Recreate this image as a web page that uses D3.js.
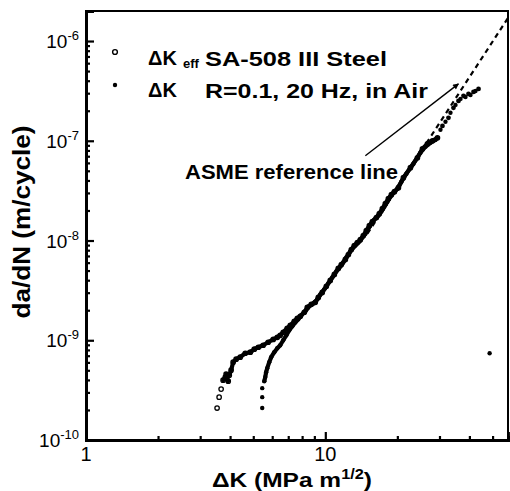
<!DOCTYPE html>
<html lang="en">
<head>
<meta charset="utf-8">
<title>da/dN vs Delta K, SA-508 III Steel</title>
<script src="https://cdnjs.cloudflare.com/ajax/libs/d3/7.8.5/d3.min.js"></script>
<style>
  body { margin: 0; background: #fff; }
  text { font-family: "Liberation Sans", Arial, sans-serif; fill: #000; }
</style>
</head>
<body>
<div id="chart"></div>
<script>
// [ΔK (MPa m^1/2), da/dN (m/cycle)]
// ΔK_eff series (open circles)
var effTail = [[3.53, 2.09e-10], [3.60, 2.69e-10], [3.67, 3.24e-10]];
var effTrace = [
  [3.74, 3.98e-10], [3.82, 4.27e-10], [3.93, 3.89e-10], [3.85, 4.57e-10], [3.97, 4.47e-10], [4.04, 5.01e-10],
  [4.12, 6.03e-10], [4.24, 6.46e-10], [4.41, 6.76e-10], [4.63, 7.41e-10], [4.86, 7.59e-10], [5.05, 8.13e-10],
  [5.25, 8.51e-10], [5.50, 8.91e-10], [5.77, 9.55e-10], [6.06, 1.02e-9], [6.30, 1.07e-9], [6.48, 1.12e-9],
  [6.67, 1.20e-9], [6.93, 1.32e-9], [7.14, 1.41e-9], [7.42, 1.55e-9], [7.64, 1.66e-9], [7.86, 1.74e-9],
  [8.17, 1.91e-9], [8.41, 2.14e-9], [8.74, 2.29e-9], [9.08, 2.40e-9], [9.35, 2.69e-9], [9.71, 3.02e-9],
  [10.10, 3.47e-9], [10.49, 3.98e-9], [10.91, 4.57e-9], [11.33, 5.25e-9], [11.67, 5.75e-9], [12.13, 6.46e-9],
  [12.49, 7.24e-9], [12.85, 8.13e-9], [13.22, 8.91e-9], [13.61, 9.55e-9], [14.01, 1.02e-8], [14.42, 1.12e-8],
  [14.84, 1.26e-8], [15.28, 1.41e-8], [15.73, 1.55e-8], [16.35, 1.70e-8], [16.82, 1.86e-8], [17.32, 2.09e-8],
  [17.82, 2.34e-8], [18.35, 2.63e-8], [18.89, 2.88e-8], [19.45, 3.09e-8], [20.21, 3.39e-8], [21.20, 4.27e-8],
  [22.68, 5.37e-8], [24.26, 6.76e-8], [25.46, 8.32e-8], [26.72, 9.33e-8], [28.04, 1.00e-7], [29.42, 1.07e-7]
];
var effTop = [
  [30.87, 1.41e-7], [32.71, 1.70e-7], [34.32, 2.14e-7], [36.02, 2.51e-7], [37.80, 2.82e-7],
  [39.66, 2.95e-7], [41.62, 3.09e-7], [43.68, 3.31e-7]
];

// ΔK series (filled dots)
var dkTail = [[5.45, 2.09e-10], [5.45, 2.69e-10], [5.45, 3.31e-10], [48.6, 7.4e-10]];
var dkTrace = [
  [5.56, 3.89e-10], [5.61, 4.27e-10], [5.66, 4.79e-10], [5.72, 5.25e-10], [5.83, 6.03e-10], [5.94, 6.76e-10],
  [6.12, 7.59e-10], [6.30, 8.32e-10], [6.48, 8.91e-10], [6.67, 1.00e-9], [6.87, 1.12e-9], [7.07, 1.26e-9],
  [7.28, 1.38e-9], [7.49, 1.51e-9], [7.71, 1.62e-9], [7.94, 1.78e-9], [8.25, 1.95e-9], [8.57, 2.19e-9],
  [8.91, 2.34e-9], [9.26, 2.57e-9], [9.53, 2.88e-9], [9.90, 3.24e-9], [10.29, 3.72e-9], [10.70, 4.27e-9],
  [11.12, 4.90e-9], [11.56, 5.50e-9], [11.89, 6.03e-9], [12.24, 6.76e-9], [12.72, 7.76e-9], [13.10, 8.51e-9],
  [13.48, 9.12e-9], [13.88, 9.77e-9], [14.28, 1.07e-8], [14.71, 1.17e-8], [15.13, 1.32e-8], [15.58, 1.48e-8],
  [16.03, 1.62e-8], [16.67, 1.78e-8], [17.15, 1.95e-8], [17.66, 2.19e-8], [18.17, 2.45e-8], [18.71, 2.75e-8],
  [19.26, 3.02e-8], [20.01, 3.31e-8], [20.80, 3.89e-8], [21.83, 4.68e-8], [23.35, 5.89e-8], [24.98, 7.59e-8],
  [26.20, 8.71e-8], [27.50, 9.55e-8], [28.86, 1.02e-7]
];
var dkTop = [
  [30.28, 1.29e-7], [31.78, 1.55e-7], [33.34, 1.91e-7], [34.99, 2.29e-7], [36.72, 2.63e-7],
  [38.53, 2.75e-7], [40.44, 2.88e-7], [42.43, 3.16e-7]
];

// ASME reference line end points and the annotation arrow
var asmeLine = [[15, 1.17e-8], [60, 1.93e-6]];
var arrowLine = [[14.7, 7.08e-8], [36.0, 3.72e-7]];

var xLabels = [1, 10];
var yExponents = [-10, -9, -8, -7, -6];

var margin = { top: 11, right: 2, bottom: 51, left: 86 },
    width = 510 - margin.left - margin.right,
    height = 491 - margin.top - margin.bottom;

var svg = d3.select("#chart").append("svg")
    .attr("width", 510)
    .attr("height", 491);

var g = svg.append("g")
    .attr("transform", "translate(" + margin.left + "," + margin.top + ")");

var x = d3.scaleLog().domain([1, 58]).range([0, width]);
var y = d3.scaleLog().domain([1e-10, 2e-6]).range([height, 0]);

svg.append("defs").append("clipPath").attr("id", "plotclip")
  .append("rect").attr("width", width).attr("height", height);

// frame
g.append("rect")
    .attr("width", width).attr("height", height)
    .attr("fill", "none").attr("stroke", "#000").attr("stroke-width", 2);

// ticks: minor and major, pointing inward
var isMajor = function(v) { return Math.abs(Math.log10(v) - Math.round(Math.log10(v))) < 1e-6; };

var xMinorAxis = d3.axisBottom(x).tickValues(x.ticks().filter(function(d) { return !isMajor(d); }))
    .tickSize(-4).tickFormat("");
var xMajorAxis = d3.axisBottom(x).tickValues(xLabels).tickSize(-8).tickFormat("");
var yMinorAxis = d3.axisLeft(y).tickValues(y.ticks().filter(function(d) { return !isMajor(d); }))
    .tickSize(-4).tickFormat("");
var yMajorAxis = d3.axisLeft(y).tickValues(yExponents.map(function(e) { return Math.pow(10, e); }))
    .tickSize(-8).tickFormat("");

[[xMinorAxis, true], [xMajorAxis, true], [yMinorAxis, false], [yMajorAxis, false]].forEach(function(a) {
  var ax = g.append("g")
    .attr("transform", a[1] ? "translate(0," + height + ")" : null)
    .call(a[0]);
  ax.select(".domain").attr("stroke-width", 2.8);
  ax.selectAll(".tick line").attr("stroke-width", 2.2);
});

// x tick labels
g.selectAll(".xlab").data(xLabels).enter().append("text")
    .attr("class", "xlab")
    .attr("x", function(d) { return x(d); })
    .attr("y", height + 21)
    .attr("text-anchor", "middle")
    .style("font-size", "20px")
    .text(function(d) { return d; });

// y tick labels 10^n
var yl = g.selectAll(".ylab").data(yExponents).enter().append("text")
    .attr("class", "ylab")
    .attr("x", -7)
    .attr("y", function(d) { return y(Math.pow(10, d)) + 7; })
    .attr("text-anchor", "end")
    .style("font-size", "19px");
yl.append("tspan").text("10");
yl.append("tspan").attr("dy", -8).style("font-size", "13px").text(function(d) { return "-" + (-d); });

// axis titles
var xt = svg.append("text")
    .attr("x", 292).attr("y", 487)
    .attr("text-anchor", "middle")
    .attr("textLength", 160).attr("lengthAdjust", "spacingAndGlyphs")
    .style("font-size", "21px").style("font-weight", "bold");
xt.append("tspan").text("\u0394K (MPa m");
xt.append("tspan").attr("dy", -8).style("font-size", "14px").text("1/2");
xt.append("tspan").attr("dy", 8).text(")");

svg.append("text")
    .attr("transform", "translate(30,222) rotate(-90)")
    .attr("text-anchor", "middle")
    .attr("textLength", 193).attr("lengthAdjust", "spacingAndGlyphs")
    .style("font-size", "24px").style("font-weight", "bold")
    .text("da/dN (m/cycle)");

var plot = g.append("g").attr("clip-path", "url(#plotclip)");

var line = d3.line()
    .x(function(d) { return x(d[0]); })
    .y(function(d) { return y(d[1]); });

// ASME reference line (dashed)
plot.append("path")
    .datum(asmeLine)
    .attr("d", line)
    .attr("fill", "none").attr("stroke", "#000")
    .attr("stroke-width", 2.2).attr("stroke-dasharray", "5,4");

// dense traces: symbols packed so tightly they read as a thick line
[effTrace, dkTrace].forEach(function(s) {
  plot.append("path")
    .datum(s)
    .attr("d", line)
    .attr("fill", "none").attr("stroke", "#000")
    .attr("stroke-width", 4.2)
    .attr("stroke-linejoin", "round").attr("stroke-linecap", "round");
});

// ΔK_eff points: open circles
plot.selectAll(".eff").data(effTail.concat(effTrace)).enter().append("circle")
    .attr("class", "eff")
    .attr("cx", function(d) { return x(d[0]); })
    .attr("cy", function(d) { return y(d[1]); })
    .attr("r", 2.2)
    .attr("fill", "none").attr("stroke", "#000").attr("stroke-width", 1.3);

// upper ΔK_eff symbols overlap into solid blobs
plot.selectAll(".efftop").data(effTop).enter().append("circle")
    .attr("class", "efftop")
    .attr("cx", function(d) { return x(d[0]); })
    .attr("cy", function(d) { return y(d[1]); })
    .attr("r", 2.4)
    .attr("fill", "#000");

// ΔK points: filled dots
plot.selectAll(".dk").data(dkTail.concat(dkTrace, dkTop)).enter().append("circle")
    .attr("class", "dk")
    .attr("cx", function(d) { return x(d[0]); })
    .attr("cy", function(d) { return y(d[1]); })
    .attr("r", 2.2)
    .attr("fill", "#000");

// annotation arrow
svg.append("defs").append("marker")
    .attr("id", "arrowhead")
    .attr("viewBox", "0 0 10 10").attr("refX", 9).attr("refY", 5)
    .attr("markerWidth", 8).attr("markerHeight", 6)
    .attr("markerUnits", "userSpaceOnUse")
    .attr("orient", "auto")
  .append("path").attr("d", "M0,0L10,5L0,10z").attr("fill", "#000");

g.append("path")
    .datum(arrowLine)
    .attr("d", line)
    .attr("stroke", "#000").attr("stroke-width", 1.4)
    .attr("marker-end", "url(#arrowhead)");

svg.append("text")
    .attr("x", 185).attr("y", 179)
    .attr("textLength", 213).attr("lengthAdjust", "spacingAndGlyphs")
    .style("font-size", "21px").style("font-weight", "bold")
    .text("ASME reference line");

// legend
var legend = svg.append("g");
legend.append("circle").attr("cx", 115).attr("cy", 52).attr("r", 2.4)
    .attr("fill", "#fff").attr("stroke", "#000").attr("stroke-width", 1.4);
legend.append("circle").attr("cx", 115).attr("cy", 85).attr("r", 2.2).attr("fill", "#000");

legend.append("text").attr("x", 148).attr("y", 65)
    .style("font-size", "20px").style("font-weight", "bold").text("\u0394K");
legend.append("text").attr("x", 183).attr("y", 68)
    .style("font-size", "13px").style("font-weight", "bold").text("eff");
legend.append("text").attr("x", 205).attr("y", 66)
    .attr("textLength", 182).attr("lengthAdjust", "spacingAndGlyphs")
    .style("font-size", "20px").style("font-weight", "bold").text("SA-508 III Steel");
legend.append("text").attr("x", 148).attr("y", 97)
    .style("font-size", "20px").style("font-weight", "bold").text("\u0394K");
legend.append("text").attr("x", 205).attr("y", 98)
    .attr("textLength", 223).attr("lengthAdjust", "spacingAndGlyphs")
    .style("font-size", "20px").style("font-weight", "bold").text("R=0.1, 20 Hz, in Air");
</script>
</body>
</html>
